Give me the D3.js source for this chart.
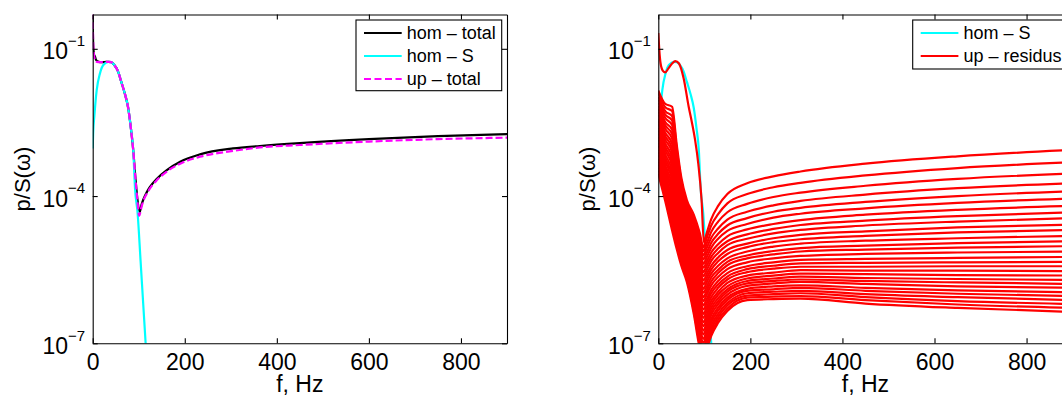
<!DOCTYPE html>
<html><head><meta charset="utf-8">
<script src="https://cdn.jsdelivr.net/npm/d3@7"></script>
<style>
html,body{margin:0;padding:0;background:#fff;}
svg text{font-family:"Liberation Sans",Arial,Helvetica,sans-serif;}
</style>
</head><body>
<svg id="c" width="1062" height="396"></svg>
<script>
// ---------- data (values are log10 of p/S(omega)) ----------
const xTicks = [0, 200, 400, 600, 800];
const yTickExps = [-7, -4, -1];

// left panel
const homTotalF   = [0, 0.5, 1.5, 3, 5, 7, 10, 16, 25, 34, 40, 47, 55, 62, 70, 77, 83, 88, 93, 97, 102, 106, 110, 117, 124, 140, 161, 190, 233, 305, 363, 450, 600, 750, 900];
const homTotalLog = [-0.25, -0.7, -1.0, -1.12, -1.16, -1.22, -1.25, -1.27, -1.27, -1.265, -1.27, -1.33, -1.46, -1.67, -1.92, -2.20, -2.62, -3.06, -3.65, -4.05, -4.33, -4.18, -4.07, -3.93, -3.82, -3.64, -3.47, -3.30, -3.15, -3.03, -2.98, -2.92, -2.84, -2.78, -2.74];

const homSF   = [0, 1, 3.5, 8.7, 15.8, 23, 34, 40, 47, 55, 62, 70, 77, 83, 88, 92, 97.6, 104, 110, 115, 120];
const homSLog = [-3.03, -2.72, -2.38, -1.84, -1.50, -1.33, -1.265, -1.27, -1.33, -1.46, -1.67, -1.92, -2.20, -2.62, -3.06, -3.85, -4.35, -5.32, -6.24, -7.0, -7.8];

const upTotalF   = [0, 1, 2, 4, 7, 12, 20, 34, 40, 47, 55, 62, 70, 77, 83, 88, 93, 97, 101, 106, 110, 117, 124, 140, 161, 190, 233, 305, 363, 450, 600, 750, 900];
const upTotalLog = [-0.25, -0.85, -1.05, -1.20, -1.26, -1.27, -1.27, -1.265, -1.27, -1.33, -1.46, -1.67, -1.92, -2.20, -2.62, -3.06, -3.66, -4.08, -4.40, -4.22, -4.10, -3.96, -3.85, -3.67, -3.50, -3.34, -3.20, -3.08, -3.01, -2.96, -2.89, -2.84, -2.81];

// right panel: "up - residus" family
const topResF   = [0, 2, 5, 10, 15, 22, 30, 37, 45, 55, 66, 73, 80, 87, 94, 99, 105, 115, 130, 150, 193, 250, 309, 450, 650, 900];
const topResLog = [-0.68, -1.0, -1.3, -1.45, -1.48, -1.40, -1.30, -1.25, -1.30, -1.60, -2.18, -2.50, -2.86, -3.35, -4.08, -4.95, -4.76, -4.47, -4.20, -3.96, -3.74, -3.60, -3.50, -3.34, -3.19, -3.06];

const resF = [0, 15, 30, 40, 50, 62, 77, 90, 98, 105, 115, 130, 150, 193, 250, 309, 450, 650, 900];
const resLog = [
 [-1.85,-2.12,-2.18,-2.95,-3.62,-4.08,-4.38,-4.75,-5.04,-4.86,-4.60,-4.37,-4.15,-3.96,-3.82,-3.73,-3.58,-3.43,-3.31],
 [-1.91,-2.19,-2.27,-3.03,-3.69,-4.14,-4.46,-4.84,-5.12,-4.97,-4.73,-4.52,-4.33,-4.16,-4.02,-3.93,-3.79,-3.65,-3.54],
 [-1.98,-2.27,-2.37,-3.11,-3.75,-4.20,-4.53,-4.92,-5.21,-5.06,-4.85,-4.66,-4.48,-4.32,-4.19,-4.10,-3.97,-3.84,-3.74],
 [-2.04,-2.34,-2.46,-3.19,-3.82,-4.27,-4.60,-5.01,-5.29,-5.16,-4.95,-4.77,-4.60,-4.45,-4.32,-4.24,-4.12,-4.00,-3.90],
 [-2.10,-2.41,-2.55,-3.27,-3.89,-4.33,-4.68,-5.10,-5.38,-5.25,-5.05,-4.87,-4.71,-4.57,-4.44,-4.36,-4.25,-4.14,-4.05],
 [-2.17,-2.49,-2.65,-3.34,-3.95,-4.39,-4.75,-5.19,-5.46,-5.34,-5.15,-4.98,-4.82,-4.68,-4.57,-4.49,-4.38,-4.28,-4.20],
 [-2.23,-2.56,-2.74,-3.42,-4.02,-4.45,-4.83,-5.27,-5.55,-5.42,-5.24,-5.07,-4.92,-4.78,-4.67,-4.59,-4.50,-4.41,-4.33],
 [-2.29,-2.63,-2.83,-3.50,-4.09,-4.51,-4.90,-5.36,-5.63,-5.51,-5.32,-5.16,-5.00,-4.87,-4.76,-4.69,-4.60,-4.52,-4.45],
 [-2.35,-2.71,-2.93,-3.58,-4.15,-4.57,-4.98,-5.45,-5.72,-5.60,-5.42,-5.25,-5.10,-4.97,-4.86,-4.79,-4.72,-4.64,-4.58],
 [-2.42,-2.78,-3.02,-3.66,-4.22,-4.64,-5.05,-5.53,-5.80,-5.68,-5.50,-5.33,-5.18,-5.04,-4.94,-4.88,-4.81,-4.74,-4.69],
 [-2.48,-2.85,-3.11,-3.74,-4.29,-4.70,-5.13,-5.62,-5.89,-5.76,-5.58,-5.42,-5.27,-5.13,-5.03,-4.97,-4.91,-4.86,-4.81],
 [-2.54,-2.93,-3.21,-3.82,-4.35,-4.76,-5.20,-5.71,-5.97,-5.85,-5.66,-5.50,-5.34,-5.21,-5.12,-5.06,-5.01,-4.96,-4.92],
 [-2.61,-3.00,-3.30,-3.90,-4.42,-4.82,-5.28,-5.79,-6.06,-5.93,-5.74,-5.57,-5.41,-5.27,-5.19,-5.13,-5.09,-5.05,-5.02],
 [-2.67,-3.07,-3.39,-3.98,-4.49,-4.88,-5.35,-5.88,-6.14,-6.01,-5.82,-5.65,-5.49,-5.35,-5.27,-5.22,-5.18,-5.15,-5.13],
 [-2.73,-3.15,-3.49,-4.06,-4.55,-4.95,-5.43,-5.97,-6.23,-6.10,-5.91,-5.73,-5.57,-5.43,-5.35,-5.30,-5.28,-5.26,-5.24],
 [-2.80,-3.22,-3.58,-4.13,-4.62,-5.01,-5.50,-6.06,-6.31,-6.18,-5.98,-5.80,-5.64,-5.49,-5.42,-5.37,-5.36,-5.35,-5.34],
 [-2.86,-3.29,-3.67,-4.21,-4.69,-5.07,-5.58,-6.14,-6.40,-6.26,-6.06,-5.87,-5.70,-5.55,-5.48,-5.44,-5.44,-5.43,-5.43],
 [-2.92,-3.37,-3.77,-4.29,-4.75,-5.13,-5.65,-6.23,-6.48,-6.34,-6.14,-5.95,-5.77,-5.62,-5.56,-5.51,-5.52,-5.52,-5.53],
 [-2.98,-3.44,-3.86,-4.37,-4.82,-5.19,-5.73,-6.32,-6.57,-6.42,-6.21,-6.01,-5.84,-5.68,-5.62,-5.58,-5.59,-5.61,-5.62],
 [-3.05,-3.51,-3.95,-4.45,-4.89,-5.26,-5.80,-6.40,-6.65,-6.50,-6.28,-6.08,-5.90,-5.73,-5.68,-5.64,-5.67,-5.69,-5.71],
 [-3.11,-3.59,-4.05,-4.53,-4.95,-5.32,-5.88,-6.49,-6.74,-6.58,-6.35,-6.14,-5.95,-5.78,-5.73,-5.70,-5.73,-5.76,-5.79],
 [-3.17,-3.66,-4.14,-4.61,-5.02,-5.38,-5.95,-6.58,-6.82,-6.66,-6.42,-6.20,-6.01,-5.83,-5.78,-5.75,-5.79,-5.84,-5.87],
 [-3.24,-3.73,-4.23,-4.69,-5.09,-5.44,-6.03,-6.67,-6.91,-6.74,-6.50,-6.27,-6.07,-5.89,-5.84,-5.82,-5.87,-5.92,-5.96],
 [-3.30,-3.81,-4.33,-4.77,-5.15,-5.50,-6.10,-6.75,-6.99,-6.82,-6.57,-6.33,-6.12,-5.93,-5.90,-5.87,-5.93,-5.99,-6.04],
 [-3.36,-3.88,-4.42,-4.84,-5.22,-5.57,-6.18,-6.84,-7.08,-6.90,-6.64,-6.40,-6.18,-5.98,-5.95,-5.93,-6.00,-6.06,-6.12],
 [-3.42,-3.95,-4.51,-4.92,-5.29,-5.63,-6.25,-6.93,-7.16,-6.98,-6.71,-6.46,-6.23,-6.03,-6.00,-5.98,-6.06,-6.14,-6.20],
 [-3.49,-4.03,-4.61,-5.00,-5.35,-5.69,-6.33,-7.01,-7.25,-7.06,-6.78,-6.52,-6.29,-6.07,-6.05,-6.04,-6.12,-6.21,-6.28],
 [-3.55,-4.10,-4.70,-5.08,-5.42,-5.75,-6.40,-7.10,-7.33,-7.14,-6.85,-6.58,-6.34,-6.12,-6.10,-6.09,-6.19,-6.28,-6.36]
];

const leftLegend  = ["hom \u2013 total", "hom \u2013 S", "up \u2013 total"];
const rightLegend = ["hom \u2013 S", "up \u2013 residus"];

// ---------- drawing ----------
const svg = d3.select("#c");
const TOP = 14.5, BOTTOM = 343.3, PW = 414.3;
const panels = [{x0: 92.7, id: "L"}, {x0: 658.3, id: "R"}];
const y = d3.scaleLog().domain([1e-7, 0.5]).range([BOTTOM, TOP]);
const toPts = (F, L) => F.map((f, i) => [f, Math.pow(10, L[i])]);
const LW = 2.2;

function makePanel(p) {
  const x = d3.scaleLinear().domain([0, 900]).range([p.x0, p.x0 + PW]);
  svg.append("clipPath").attr("id", "clip" + p.id).append("rect")
    .attr("x", p.x0).attr("y", TOP).attr("width", PW).attr("height", BOTTOM - TOP);
  const g = svg.append("g");
  const plot = g.append("g").attr("clip-path", `url(#clip${p.id})`);
  const line = d3.line().x(d => x(d[0])).y(d => y(d[1])).curve(d3.curveMonotoneX);
  return {x, g, plot, line};
}

function drawAxes(P, p) {
  const {x, g} = P;
  const style = sel => { sel.selectAll("path,line").attr("stroke", "#000").attr("stroke-width", 1.1); };
  const bx = g.append("g").attr("transform", `translate(0,${BOTTOM})`)
    .call(d3.axisBottom(x).tickValues(xTicks).tickSizeInner(-5).tickSizeOuter(0).tickPadding(10));
  style(bx);
  bx.selectAll("text").attr("font-size", 23).attr("fill", "#000")
    .attr("font-family", '"Liberation Sans",Arial,sans-serif');
  const tx = g.append("g").attr("transform", `translate(0,${TOP})`)
    .call(d3.axisTop(x).tickValues(xTicks).tickSizeInner(-5).tickSizeOuter(0).tickFormat(() => ""));
  style(tx);
  const ly = g.append("g").attr("transform", `translate(${p.x0},0)`)
    .call(d3.axisLeft(y).tickValues(yTickExps.map(e => Math.pow(10, e))).tickSizeInner(-5).tickSizeOuter(0).tickFormat(() => ""));
  style(ly);
  ly.selectAll(".tick").each(function(d) {
    const e = Math.round(Math.log10(d));
    const t = d3.select(this).append("text").attr("x", -7.5).attr("y", 10)
      .attr("text-anchor", "end").attr("fill", "#000")
      .attr("font-family", '"Liberation Sans",Arial,sans-serif');
    t.append("tspan").attr("font-size", 23).text("10");
    t.append("tspan").attr("font-size", 15).attr("dy", -13.3).text("\u2212" + Math.abs(e));
  });
  const ry = g.append("g").attr("transform", `translate(${p.x0 + PW},0)`)
    .call(d3.axisRight(y).tickValues(yTickExps.map(e => Math.pow(10, e))).tickSizeInner(-5).tickSizeOuter(0).tickFormat(() => ""));
  style(ry);
  g.append("text").attr("x", p.x0 + PW / 2).attr("y", 392).attr("text-anchor", "middle")
    .attr("font-size", 23).text("f, Hz");
  g.append("text").attr("transform", `translate(${p.x0 - 63},179) rotate(-90)`)
    .attr("text-anchor", "middle").attr("font-size", 22).text("p/S(\u03c9)");
}

function legend(x0, y0, w, h, items) {
  const lg = svg.append("g");
  lg.append("rect").attr("x", x0).attr("y", y0).attr("width", w).attr("height", h)
    .attr("fill", "#fff").attr("stroke", "#000").attr("stroke-width", 1.1);
  items.forEach((it, i) => {
    const yy = y0 + 13 + i * 23;
    lg.append("line").attr("x1", x0 + 8).attr("x2", x0 + 45.7).attr("y1", yy).attr("y2", yy)
      .attr("stroke", it.color).attr("stroke-width", LW).attr("stroke-dasharray", it.dash || null);
    lg.append("text").attr("x", x0 + 50.7).attr("y", yy + 6.3).attr("font-size", 18).attr("fill", "#000").text(it.label);
  });
}

// left panel
const A = makePanel(panels[0]);
A.plot.append("path").datum(toPts(homTotalF, homTotalLog)).attr("d", A.line)
  .attr("fill", "none").attr("stroke", "#000").attr("stroke-width", LW);
A.plot.append("path").datum(toPts(homSF, homSLog)).attr("d", A.line)
  .attr("fill", "none").attr("stroke", "#00ffff").attr("stroke-width", LW);
A.plot.append("path").datum(toPts(upTotalF, upTotalLog)).attr("d", A.line)
  .attr("fill", "none").attr("stroke", "#ff00ff").attr("stroke-width", LW).attr("stroke-dasharray", "7,3");
drawAxes(A, panels[0]);
legend(356, 20, 145.7, 70.7, [
  {label: leftLegend[0], color: "#000"},
  {label: leftLegend[1], color: "#00ffff"},
  {label: leftLegend[2], color: "#ff00ff", dash: "7,3.5"}
]);

// right panel
const B = makePanel(panels[1]);
B.plot.append("path").datum(toPts(homSF, homSLog)).attr("d", B.line)
  .attr("fill", "none").attr("stroke", "#00ffff").attr("stroke-width", LW);
B.plot.selectAll("path.res").data(resLog).join("path").attr("class", "res")
  .attr("d", L => B.line(toPts(resF, L)))
  .attr("fill", "none").attr("stroke", "#ff0000").attr("stroke-width", LW);
B.plot.append("path").datum(toPts(topResF, topResLog)).attr("d", B.line)
  .attr("fill", "none").attr("stroke", "#ff0000").attr("stroke-width", LW);
drawAxes(B, panels[1]);
legend(912.7, 20, 170, 49, [
  {label: rightLegend[0], color: "#00ffff"},
  {label: rightLegend[1], color: "#ff0000"}
]);
</script>
</body></html>
